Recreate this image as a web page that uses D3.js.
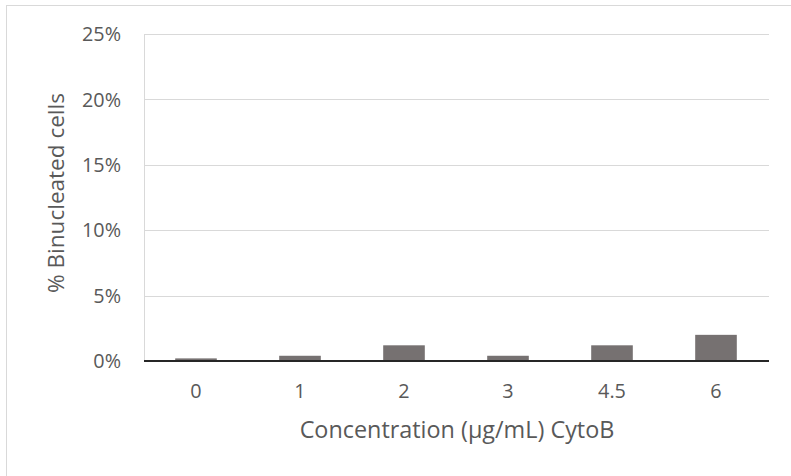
<!DOCTYPE html>
<html><head><meta charset="utf-8">
<script src="https://cdn.jsdelivr.net/npm/d3@7"></script>
<style>body{margin:0;background:#fff}svg{display:block}text{font-family:"Open Sans","Liberation Sans",sans-serif}</style>
</head><body><svg id="c" width="791" height="476"></svg>
<script>
const categories = ["0","1","2","3","4.5","6"];
const values = [0.002,0.004,0.012,0.004,0.012,0.020];
const yTicks = [0,0.05,0.10,0.15,0.20,0.25];
const xTitle = "Concentration (\u00b5g/mL) CytoB";
const yTitle = "% Binucleated cells";

const svg = d3.select("#c");
const m = {left:144, right:768, top:34, bottom:361};
svg.append("rect").attr("x",6.5).attr("y",5.5).attr("width",800).attr("height",500)
  .attr("fill","#fff").attr("stroke","#d9d9d9").attr("stroke-width",1);

const x = d3.scaleBand().domain(categories).range([m.left,m.right]).paddingInner(0.6).paddingOuter(0.3);
const y = d3.scaleLinear().domain([0,0.25]).range([m.bottom,m.top]);

svg.append("g").selectAll("line").data(yTicks.filter(d=>d>0)).join("line")
  .attr("x1",m.left).attr("x2",m.right+1).attr("y1",d=>Math.round(y(d))+0.5).attr("y2",d=>Math.round(y(d))+0.5)
  .attr("stroke","#d9d9d9").attr("stroke-width",1);
svg.append("line").attr("x1",m.left+0.5).attr("x2",m.left+0.5).attr("y1",m.top).attr("y2",m.bottom)
  .attr("stroke","#d9d9d9");

svg.append("g").selectAll("rect").data(values).join("rect")
  .attr("x",(d,i)=>x(categories[i])).attr("width",x.bandwidth())
  .attr("y",d=>y(d)).attr("height",d=>y(0)-y(d)).attr("fill","#767171");

svg.append("line").attr("x1",m.left).attr("x2",m.right+1).attr("y1",m.bottom).attr("y2",m.bottom)
  .attr("stroke","#262626").attr("stroke-width",2);

function fit(sel, target){
  const n = sel.node(); const fs = +sel.attr("font-size");
  const w = n.getComputedTextLength();
  return fs*target/w;
}

const probe = svg.append("text").attr("font-size",20).text("25%");
const tickFs = Math.min(22, fit(probe, 39));
probe.remove();

svg.append("g").selectAll("text").data(yTicks).join("text")
  .attr("x",121).attr("y",d=>y(d)).attr("dy","0.36em").attr("text-anchor","end")
  .attr("font-size",tickFs).attr("fill","#595959").text(d3.format(".0%"));

svg.append("g").selectAll("text").data(categories).join("text")
  .attr("x",d=>x(d)+x.bandwidth()/2).attr("y",398).attr("text-anchor","middle")
  .attr("font-size",tickFs).attr("fill","#595959").text(d=>d);

const xt = svg.append("text").attr("x",457).attr("y",438).attr("text-anchor","middle")
  .attr("font-size",20).attr("fill","#595959").text(xTitle);
xt.attr("font-size", fit(xt, 315));
const yt = svg.append("text").attr("transform","translate(64,193) rotate(-90)").attr("text-anchor","middle")
  .attr("font-size",20).attr("fill","#595959").text(yTitle);
yt.attr("font-size", fit(yt, 200));
</script></body></html>
